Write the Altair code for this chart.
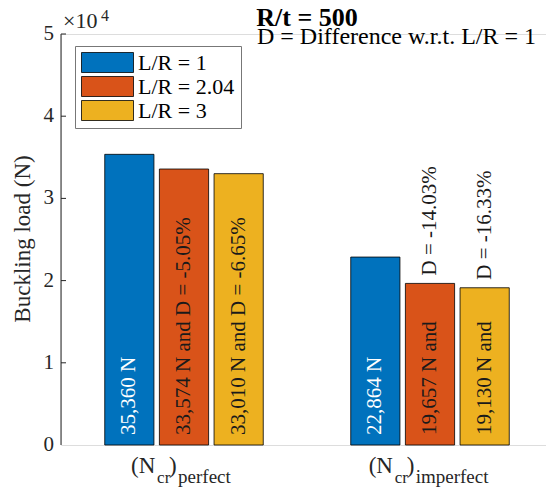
import altair as alt
import pandas as pd

FONT = "Liberation Serif"

series = ["L/R = 1", "L/R = 2.04", "L/R = 3"]
colors = ["#0072BD", "#D95319", "#EDB120"]
groups = ["perfect", "imperfect"]
group_pos = [1, 2]
perfect_vals = [35360, 33574, 33010]
imperfect_vals = [22864, 19657, 19130]
perfect_inner = ["35,360 N", "33,574 N and D = -5.05%", "33,010 N and D = -6.65%"]
imperfect_inner = ["22,864 N", "19,657 N and", "19,130 N and"]
perfect_above = ["", "", ""]
imperfect_above = ["", "D = -14.03%", "D = -16.33%"]
y_ticks = [0, 10000, 20000, 30000, 40000, 50000]
y_tick_labels = ["0", "1", "2", "3", "4", "5"]
title_text = "R/t = 500"
note_text = "D = Difference w.r.t. L/R = 1"
y_title = "Buckling load (N)"
exp_base = "\u00d710"
exp_power = "4"

rows = []
for g, gp, vals, inner, above in zip(groups, group_pos,
                                     [perfect_vals, imperfect_vals],
                                     [perfect_inner, imperfect_inner],
                                     [perfect_above, imperfect_above]):
    for si, (s, v, lab, ab) in enumerate(zip(series, vals, inner, above)):
        rows.append({"group": g, "gp": gp, "si": si, "series": s,
                     "value": v, "inner": lab, "above": ab})
df = pd.DataFrame(rows)

xscale = alt.Scale(domain=[0.5, 2.5], range=[0, 492], nice=False, zero=False)
yscale = alt.Scale(domain=[0, 50000], nice=False)

base = alt.Chart(df).transform_calculate(
    xc="datum.gp + (datum.si - 1) * 0.2222",
    x1="datum.gp + (datum.si - 1) * 0.2222 - 0.1",
    x2="datum.gp + (datum.si - 1) * 0.2222 + 0.1",
    zero="0",
)

legend_path = "M-1,-0.385 L1,-0.385 L1,0.385 L-1,0.385 Z"

bars = base.mark_bar(stroke="black", strokeWidth=0.8, opacity=1).encode(
    x=alt.X("x1:Q", scale=xscale,
            axis=alt.Axis(labels=False, ticks=False, title=None, grid=False,
                          domainColor="#262626", domainWidth=1)),
    x2="x2:Q",
    y=alt.Y("value:Q", scale=yscale, axis=None),
    y2="zero:Q",
    color=alt.Color("series:N", scale=alt.Scale(domain=series, range=colors),
                    legend=alt.Legend(orient="none", legendX=14, legendY=12,
                                      title=None, fillColor="white",
                                      strokeColor="#777777", padding=6,
                                      symbolType=legend_path, symbolSize=2704,
                                      symbolStrokeColor="black",
                                      symbolStrokeWidth=0.8, symbolOpacity=1,
                                      labelFont=FONT, labelFontSize=22,
                                      labelColor="black", labelOffset=4,
                                      clipHeight=21, rowPadding=1,
                                      cornerRadius=0)),
)

inner_white = base.transform_filter("datum.si == 0").mark_text(
    angle=270, align="left", baseline="middle", dx=10, font=FONT,
    fontSize=21, color="white"
).encode(x=alt.X("xc:Q", scale=xscale, axis=None),
         y=alt.Y("zero:Q", scale=yscale, axis=None), text="inner:N")

inner_black = base.transform_filter("datum.si > 0").mark_text(
    angle=270, align="left", baseline="middle", dx=10, font=FONT,
    fontSize=21, color="#1a1a1a"
).encode(x=alt.X("xc:Q", scale=xscale, axis=None),
         y=alt.Y("zero:Q", scale=yscale, axis=None), text="inner:N")

above_txt = base.transform_filter("datum.above != ''").mark_text(
    angle=270, align="left", baseline="middle", dx=8, font=FONT,
    fontSize=21, color="#1a1a1a"
).encode(x=alt.X("xc:Q", scale=xscale, axis=None),
         y=alt.Y("value:Q", scale=yscale, axis=None), text="above:N")

tick_df = pd.DataFrame({"t": y_ticks, "lab": y_tick_labels})
ticks = alt.Chart(tick_df).transform_filter("datum.t > 0").mark_rule(
    color="#262626", strokeWidth=1).encode(
    y=alt.Y("t:Q", scale=yscale, axis=None), x=alt.value(0), x2=alt.value(5))
tick_labels = alt.Chart(tick_df).mark_text(
    align="right", baseline="middle", font=FONT, fontSize=21, color="#262626",
    dx=-7).encode(
    y=alt.Y("t:Q", scale=yscale, axis=None), x=alt.value(0), text="lab:N")
y_axis_line = alt.Chart(pd.DataFrame({"lo": [y_ticks[0]], "hi": [y_ticks[-1]]})).mark_rule(
    color="#262626", strokeWidth=1).encode(
    y=alt.Y("lo:Q", scale=yscale, axis=None), y2="hi:Q", x=alt.value(0))

cat_df = pd.DataFrame({"gp": group_pos, "sub2": groups})
cat_base = alt.Chart(cat_df).transform_calculate(
    start="-(47 + 8.4 * length(datum.sub2)) / 2",
).transform_calculate(
    xa="datum.gp + datum.start / 246",
    xb="datum.gp + (datum.start + 26) / 246",
    xc2="datum.gp + (datum.start + 38) / 246",
    xd="datum.gp + (datum.start + 47) / 246",
    m1="'(N'", s1="'cr'", m2="')'",
)
cat_m1 = cat_base.mark_text(align="left", baseline="alphabetic", font=FONT,
                            fontSize=23, color="#262626").encode(
    x=alt.X("xa:Q", scale=xscale, axis=None), y=alt.value(439), text="m1:N")
cat_s1 = cat_base.mark_text(align="left", baseline="alphabetic", font=FONT,
                            fontSize=17, color="#262626").encode(
    x=alt.X("xb:Q", scale=xscale, axis=None), y=alt.value(449), text="s1:N")
cat_m2 = cat_base.mark_text(align="left", baseline="alphabetic", font=FONT,
                            fontSize=23, color="#262626").encode(
    x=alt.X("xc2:Q", scale=xscale, axis=None), y=alt.value(439), text="m2:N")
cat_s2 = cat_base.mark_text(align="left", baseline="alphabetic", font=FONT,
                            fontSize=19, color="#262626").encode(
    x=alt.X("xd:Q", scale=xscale, axis=None), y=alt.value(449), text="sub2:N")

one = pd.DataFrame({"a": [title_text], "b": [note_text], "c": [exp_base],
                    "d": [exp_power], "e": [y_title]})
title_mark = alt.Chart(one).mark_text(align="center", baseline="alphabetic",
                                      font=FONT, fontSize=26, fontWeight="bold",
                                      color="black").encode(
    x=alt.value(246), y=alt.value(-8), text="a:N")
note_mark = alt.Chart(one).mark_text(align="left", baseline="alphabetic",
                                     font=FONT, fontSize=24, color="black").encode(
    x=alt.value(196), y=alt.value(10), text="b:N")
exp_mark = alt.Chart(one).mark_text(align="left", baseline="alphabetic",
                                    font=FONT, fontSize=22, color="#262626").encode(
    x=alt.value(2), y=alt.value(-6), text="c:N")
pow_mark = alt.Chart(one).mark_text(align="left", baseline="alphabetic",
                                    font=FONT, fontSize=16, color="#262626").encode(
    x=alt.value(40), y=alt.value(-13), text="d:N")
ytitle_mark = alt.Chart(one).mark_text(align="center", baseline="middle", angle=270,
                                       font=FONT, fontSize=23, color="#262626").encode(
    x=alt.value(-38), y=alt.value(205), text="e:N")

chart = alt.layer(
    bars, inner_white, inner_black, above_txt, y_axis_line, ticks, tick_labels,
    cat_m1, cat_s1, cat_m2, cat_s2, title_mark, note_mark, exp_mark, pow_mark,
    ytitle_mark
).properties(
    width=485, height=411,
    autosize=alt.AutoSizeParams(type="none"),
    padding={"left": 61, "top": 34, "right": 0, "bottom": 43},
).configure_view(stroke=None).configure(background="white")

chart.save("out.html", embed_options={"renderer": "svg", "actions": False})
